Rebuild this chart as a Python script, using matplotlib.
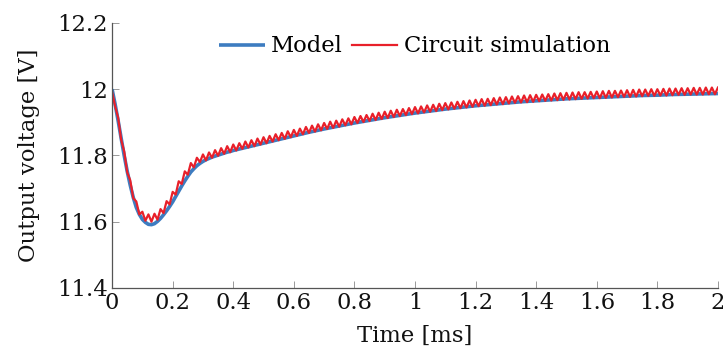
import matplotlib
matplotlib.use("Agg")
import matplotlib.pyplot as plt
import numpy as np

# ---- data ----
model_t = [0.00, 0.01, 0.02, 0.03, 0.04, 0.05, 0.06, 0.07, 0.08, 0.09,
           0.10, 0.11, 0.12, 0.13, 0.14, 0.15, 0.16, 0.17, 0.18, 0.19,
           0.20, 0.21, 0.22, 0.23, 0.24, 0.25, 0.26, 0.27, 0.28, 0.29,
           0.30, 0.31, 0.32, 0.33, 0.34, 0.35, 0.36, 0.37, 0.38, 0.39,
           0.40, 0.45, 0.50, 0.55, 0.60, 0.65, 0.70, 0.75, 0.80, 0.85,
           0.90, 0.95, 1.00, 1.05, 1.10, 1.15, 1.20, 1.25, 1.30, 1.35,
           1.40, 1.45, 1.50, 1.55, 1.60, 1.65, 1.70, 1.75, 1.80, 1.85,
           1.90, 1.95, 2.00]
model_v = [12.000, 11.955, 11.905, 11.852, 11.800, 11.752, 11.710, 11.673, 11.643, 11.622,
           11.607, 11.598, 11.592, 11.591, 11.594, 11.601, 11.610, 11.621, 11.633, 11.646,
           11.660, 11.676, 11.692, 11.708, 11.723, 11.737, 11.750, 11.760, 11.769, 11.776,
           11.782, 11.787, 11.791, 11.795, 11.798, 11.801, 11.804, 11.807, 11.810, 11.812,
           11.815, 11.826, 11.837, 11.848, 11.859, 11.870, 11.880, 11.889, 11.898, 11.906,
           11.914, 11.921, 11.928, 11.934, 11.940, 11.945, 11.950, 11.954, 11.958, 11.962,
           11.965, 11.968, 11.971, 11.973, 11.975, 11.977, 11.979, 11.981, 11.982, 11.984,
           11.985, 11.986, 11.987]

# circuit simulation, sampled every 0.01 ms (ripple peaks / troughs)
sim_dt = 0.01
sim_v = [11.992, 11.949, 11.914, 11.848, 11.812, 11.749, 11.725, 11.671, 11.661, 11.622,
         11.630, 11.603, 11.622, 11.600, 11.624, 11.606, 11.638, 11.626, 11.662, 11.652,
         11.690, 11.682, 11.722, 11.714, 11.752, 11.742, 11.777, 11.764, 11.793, 11.780,
         11.803, 11.785, 11.809, 11.793, 11.816, 11.799, 11.822, 11.805, 11.828, 11.810,
         11.833, 11.815, 11.837, 11.820, 11.842, 11.824, 11.846, 11.828, 11.851, 11.833,
         11.855, 11.837, 11.859, 11.842, 11.864, 11.846, 11.868, 11.850, 11.873, 11.855,
         11.877, 11.859, 11.881, 11.864, 11.886, 11.868, 11.890, 11.872, 11.894, 11.876,
         11.898, 11.880, 11.902, 11.883, 11.905, 11.887, 11.909, 11.891, 11.912, 11.894,
         11.916, 11.898, 11.919, 11.901, 11.922, 11.904, 11.926, 11.907, 11.929, 11.910,
         11.932, 11.913, 11.935, 11.916, 11.938, 11.919, 11.940, 11.922, 11.943, 11.925,
         11.946, 11.927, 11.948, 11.930, 11.951, 11.932, 11.953, 11.934, 11.956, 11.937,
         11.958, 11.939, 11.960, 11.941, 11.962, 11.943, 11.964, 11.945, 11.966, 11.947,
         11.968, 11.949, 11.970, 11.950, 11.971, 11.952, 11.973, 11.954, 11.975, 11.955,
         11.976, 11.957, 11.978, 11.959, 11.979, 11.960, 11.981, 11.961, 11.982, 11.962,
         11.983, 11.964, 11.984, 11.965, 11.985, 11.966, 11.987, 11.967, 11.988, 11.968,
         11.989, 11.969, 11.990, 11.970, 11.991, 11.971, 11.991, 11.972, 11.992, 11.973,
         11.993, 11.973, 11.994, 11.974, 11.995, 11.975, 11.995, 11.976, 11.996, 11.977,
         11.997, 11.977, 11.998, 11.978, 11.999, 11.979, 11.999, 11.980, 12.000, 11.980,
         12.000, 11.981, 12.001, 11.981, 12.002, 11.982, 12.002, 11.983, 12.003, 11.983,
         12.003, 11.984, 12.004, 11.984, 12.004, 11.984, 12.005, 11.985, 12.005, 11.985,
         12.005]
sim_t = np.arange(len(sim_v)) * sim_dt

x_ticks = [0, 0.2, 0.4, 0.6, 0.8, 1, 1.2, 1.4, 1.6, 1.8, 2]
x_ticklabels = ["0", "0.2", "0.4", "0.6", "0.8", "1", "1.2", "1.4", "1.6", "1.8", "2"]
y_ticks = [11.4, 11.6, 11.8, 12.0, 12.2]
y_ticklabels = ["11.4", "11.6", "11.8", "12", "12.2"]

# ---- style ----
plt.rcParams['font.family'] = ['DejaVu Serif']
FS = 16.3

fig = plt.figure(figsize=(7.23, 3.59), dpi=100)
ax = fig.add_axes([0.155, 0.198, 0.838, 0.738])

ax.plot(model_t, model_v, color='#3d7cc0', lw=2.6, label='Model', solid_capstyle='butt')
ax.plot(sim_t, sim_v, color='#e8202a', lw=1.6, label='Circuit simulation')

ax.set_xlim(0, 2)
ax.set_ylim(11.4, 12.2)
ax.set_xticks(x_ticks)
ax.set_xticklabels(x_ticklabels)
ax.set_yticks(y_ticks)
ax.set_yticklabels(y_ticklabels)

for s in ['top', 'right']:
    ax.spines[s].set_visible(False)
for s in ['left', 'bottom']:
    ax.spines[s].set_color('#555555')
    ax.spines[s].set_linewidth(0.9)

ax.tick_params(direction='in', length=5, width=0.7, color='#999999',
               labelsize=FS, labelcolor='#111111', pad=3)

ax.set_xlabel('Time [ms]', fontsize=FS, color='#111111', labelpad=8)
ax.set_ylabel('Output voltage [V]', fontsize=FS, color='#111111', labelpad=12)

leg = ax.legend(loc='upper center', bbox_to_anchor=(0.5, 1.0), ncol=2, frameon=False,
                fontsize=FS, handlelength=2.0, handletextpad=0.3, columnspacing=0.4,
                borderaxespad=0.15)

fig.savefig('out.png', dpi=100)
